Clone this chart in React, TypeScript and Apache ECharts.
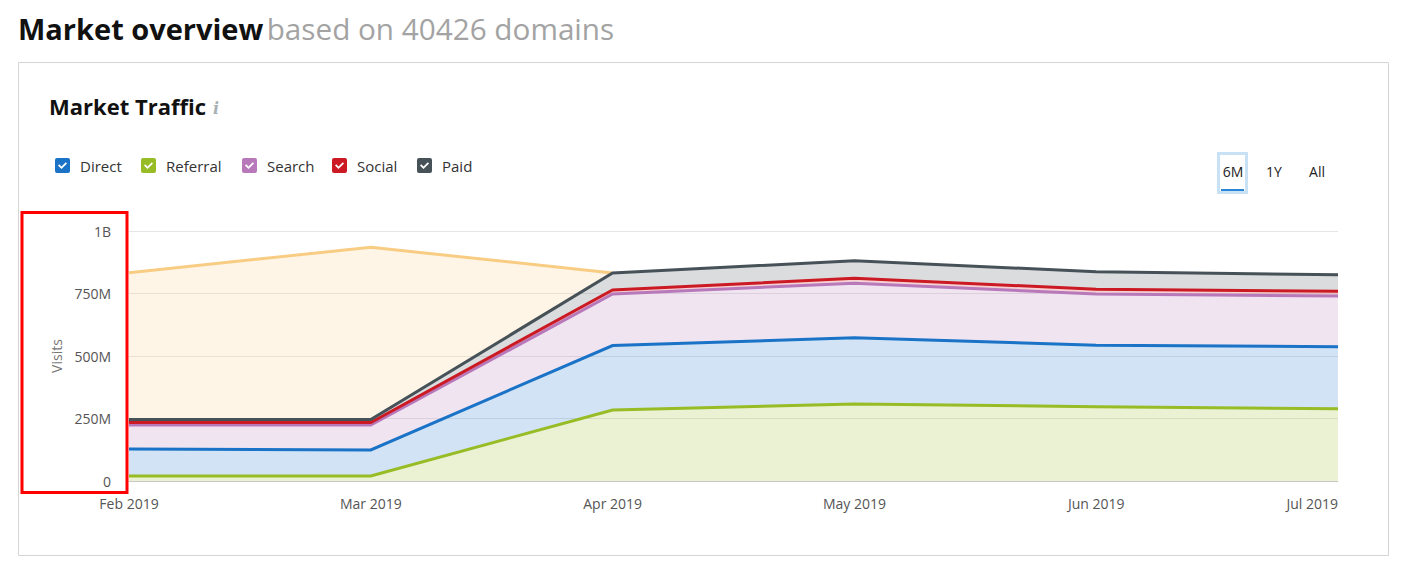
import React, { useEffect, useRef } from "react";
import * as echarts from "echarts";

const months = ["Feb 2019", "Mar 2019", "Apr 2019", "May 2019", "Jun 2019", "Jul 2019"];
const referral = [20, 20, 284, 308, 297, 289];
const direct = [108, 104, 258, 265, 246, 248];
const search = [96, 100, 206, 218, 205, 203];
const social = [10, 10, 16, 20, 19, 19];
const paid = [12, 12, 68, 70, 70, 66];
const estimate = [587, 689, 0, null, null, null];
const yTicks = [0, 250, 500, 750, 1000];
const legendNames = ["Direct", "Referral", "Search", "Social", "Paid"];
const periods = ["6M", "1Y", "All"];

const FONT = "'Open Sans', 'Noto Sans', sans-serif";

const colors: Record<string, string> = {
  Direct: "#1a73c6",
  Referral: "#97bc25",
  Search: "#b879bb",
  Social: "#cc1a24",
  Paid: "#475258",
  Estimate: "#f8cd83",
};

const checkIcon =
  "path://M2,0H13Q15,0,15,2V13Q15,15,13,15H2Q0,15,0,13V2Q0,0,2,0Z M6.5,11L12,5.5L10.8,4.3L6.5,8.6L4.2,6.3L3,7.5Z";

function fmt(v: number) {
  if (v === 0) return "0";
  if (v >= 1000) return v / 1000 + "B";
  return v + "M";
}

export default function App() {
  const ref = useRef<HTMLDivElement>(null);
  useEffect(() => {
    if (!ref.current) return;
    const chart = echarts.init(ref.current, null, { renderer: "svg" });
    const mk = (name: string, data: (number | null)[], z: number) => ({
      name,
      type: "line",
      data,
      stack: "total",
      symbol: "none",
      z,
      color: colors[name],
      lineStyle: { width: 3, color: colors[name], join: "miter" },
      areaStyle: { color: colors[name], opacity: 0.2 },
      emphasis: { disabled: true },
    });
    const legendLeft = [50, 136, 237, 327, 412];
    chart.setOption({
      animation: false,
      textStyle: { fontFamily: FONT },
      grid: { left: 129, right: 78, top: 231, bottom: 97 },
      legend: legendNames.map((n, i) => ({
        data: [n],
        left: legendLeft[i],
        top: 153,
        icon: checkIcon,
        itemWidth: 15,
        itemHeight: 15,
        itemStyle: { borderWidth: 0 },
        selectedMode: false,
        textStyle: { color: "#333", fontSize: 15, fontFamily: FONT, padding: [0, 0, 0, 5] },
      })),
      xAxis: {
        type: "category",
        data: months,
        boundaryGap: false,
        axisLine: { lineStyle: { color: "#c8c8c8", width: 1 } },
        axisTick: { show: false },
        axisLabel: {
          color: "#555",
          fontSize: 14,
          margin: 15,
          fontFamily: FONT,
          alignMaxLabel: "right",
        },
        splitLine: { show: false },
      },
      yAxis: {
        type: "value",
        min: yTicks[0],
        max: yTicks[yTicks.length - 1],
        interval: yTicks[1] - yTicks[0],
        name: "Visits",
        nameLocation: "middle",
        nameGap: 65,
        nameTextStyle: { color: "#777", fontSize: 14, fontFamily: FONT },
        axisLine: { show: false },
        axisTick: { show: false },
        axisLabel: { color: "#555", fontSize: 14, margin: 18, formatter: fmt, fontFamily: FONT },
        splitLine: { lineStyle: { color: "#e6e6e6", width: 1 } },
      },
      series: [
        mk("Referral", referral, 2),
        mk("Direct", direct, 2),
        mk("Search", search, 2),
        mk("Social", social, 2),
        mk("Paid", paid, 2),
        mk("Estimate", estimate, 1),
      ],
      graphic: [
        {
          type: "text",
          left: 18,
          top: 13,
          style: {
            text: "{a|Market overview} {b|based on 40426 domains}",
            rich: {
              a: { fontSize: 29, fontWeight: "bold", fill: "#111", fontFamily: FONT },
              b: { fontSize: 29.7, fill: "#a3a3a3", fontFamily: FONT },
            },
          },
        },
        {
          type: "rect",
          shape: { x: 18.5, y: 62.5, width: 1370, height: 493 },
          style: { fill: "none", stroke: "#d4d4d4", lineWidth: 1 },
        },
        {
          type: "text",
          x: 49,
          y: 106,
          style: {
            text: "Market Traffic",
            fontSize: 22,
            fontWeight: "bold",
            fill: "#111",
            fontFamily: FONT,
            verticalAlign: "middle",
          },
        },
        {
          type: "text",
          x: 213,
          y: 108,
          style: {
            text: "i",
            fontSize: 16,
            fontStyle: "italic",
            fontWeight: "bold",
            fill: "#a9b0b4",
            fontFamily: "'DejaVu Serif', serif",
            verticalAlign: "middle",
          },
        },
        {
          type: "rect",
          shape: { x: 1218.5, y: 153.5, width: 28, height: 39 },
          style: { fill: "#fff", stroke: "#c9e1f5", lineWidth: 3 },
        },
        {
          type: "rect",
          shape: { x: 1221, y: 189, width: 23, height: 2 },
          style: { fill: "#2a86d6" },
        },
        ...periods.map((p, i) => ({
          type: "text",
          x: [1233, 1274, 1317][i],
          y: 171,
          style: {
            text: p,
            fontSize: 14,
            fill: "#222",
            fontFamily: FONT,
            align: "center",
            verticalAlign: "middle",
          },
        })),
        {
          type: "rect",
          z: 100,
          shape: { x: 22, y: 212.5, width: 105, height: 280 },
          style: { fill: "none", stroke: "#ff0000", lineWidth: 3 },
        },
      ],
    });
    return () => chart.dispose();
  }, []);
  return (
    <div
      ref={ref}
      style={{ position: "absolute", left: 0, top: 0, width: 1416, height: 578, background: "#fff" }}
    />
  );
}
